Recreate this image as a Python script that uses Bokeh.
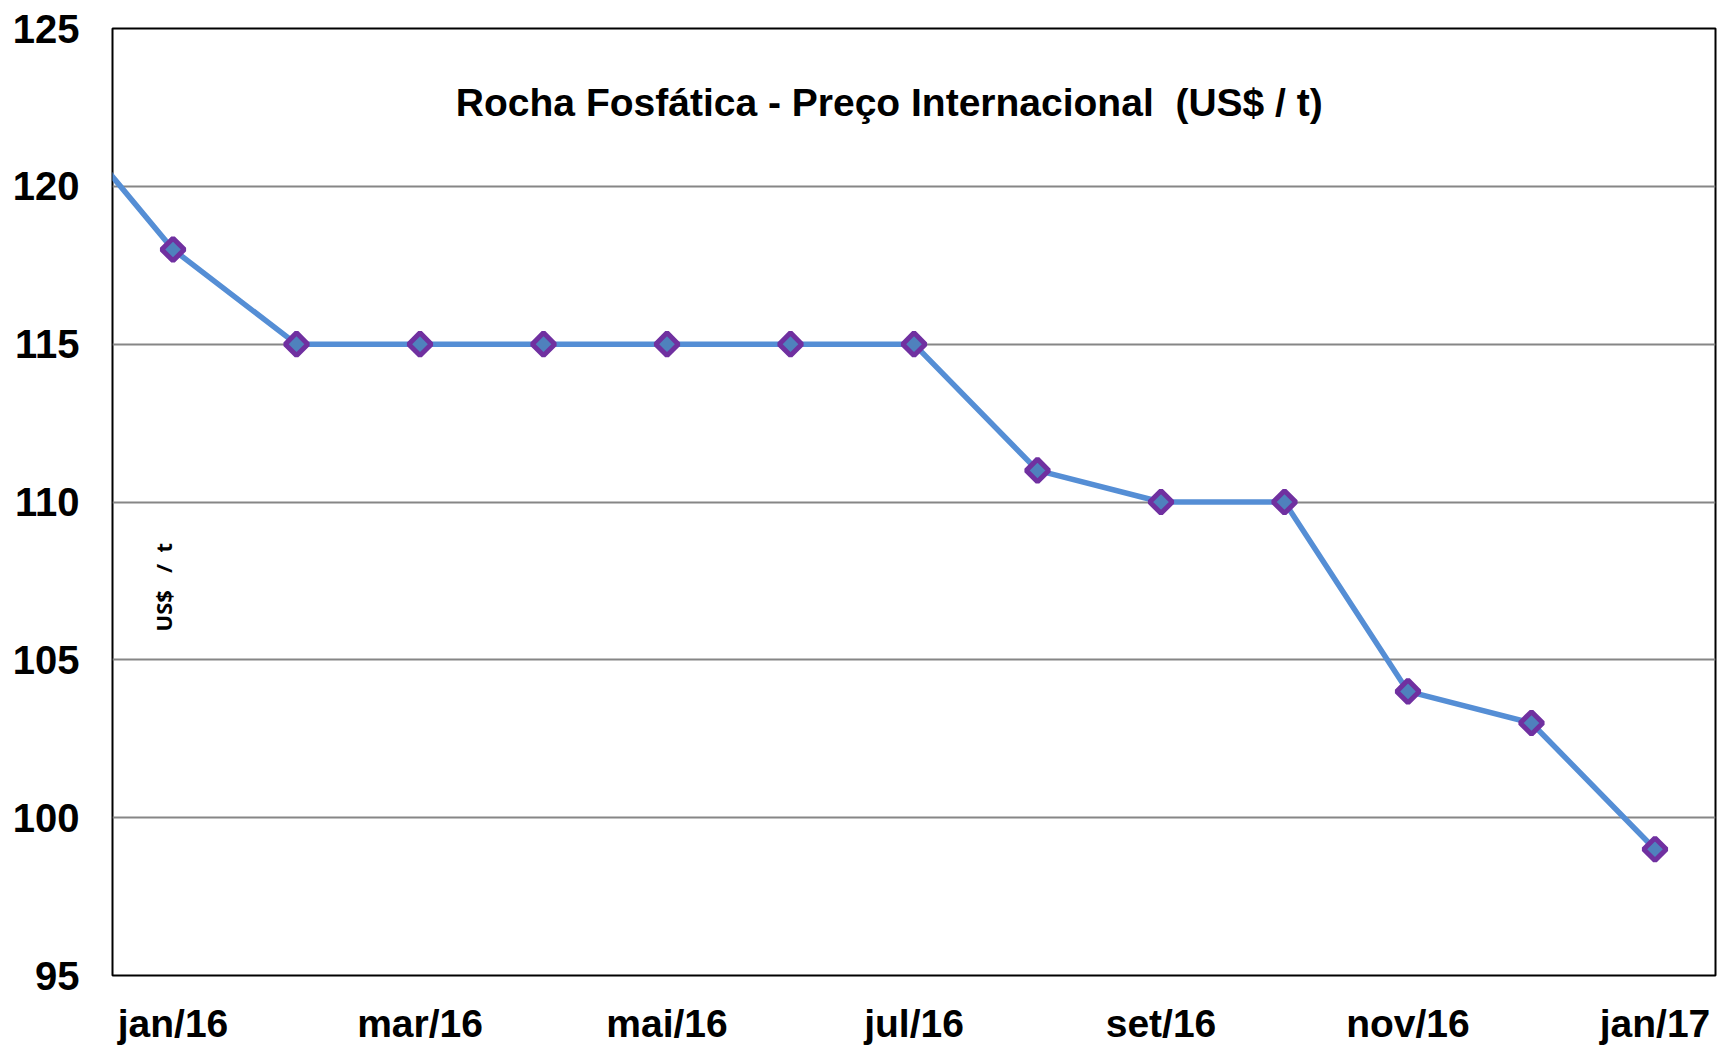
from bokeh.plotting import figure
from bokeh.models import FixedTicker, Label, Range1d
from bokeh.embed import file_html
from bokeh.resources import INLINE
import math

# ---- data ----
months = ["dez/15", "jan/16", "fev/16", "mar/16", "abr/16", "mai/16", "jun/16",
          "jul/16", "ago/16", "set/16", "out/16", "nov/16", "dez/16", "jan/17"]
prices = [122.7, 118, 115, 115, 115, 115, 115, 115, 111, 110, 110, 104, 103, 99]
tick_labels = ["jan/16", "mar/16", "mai/16", "jul/16", "set/16", "nov/16", "jan/17"]
y_ticks = [95, 100, 105, 110, 115, 120, 125]
title_text = "Rocha Fosfática - Preço Internacional\u00a0\u00a0(US$ / t)"
y_label_text = "US$\u00a0\u00a0\u00a0/\u00a0\u00a0t"

x = [i - 1 for i in range(len(months))]  # jan/16 -> 0

p = figure(width=1717, height=1047, output_backend="svg", toolbar_location=None,
           x_range=Range1d(-0.49, 12.49), y_range=Range1d(95, 125),
           min_border_left=112, min_border_right=2, min_border_top=28, min_border_bottom=69)

p.background_fill_color = "white"
p.border_fill_color = "white"
p.outline_line_color = "black"
p.outline_line_width = 2

# axes
p.xaxis.ticker = FixedTicker(ticks=[x[months.index(l)] for l in tick_labels])
p.xaxis.major_label_overrides = {x[months.index(l)]: l for l in tick_labels}
p.yaxis.ticker = FixedTicker(ticks=y_ticks)
for ax in (p.xaxis, p.yaxis):
    ax.axis_line_color = None
    ax.major_tick_line_color = None
    ax.minor_tick_line_color = None
    ax.major_tick_out = 0
    ax.major_tick_in = 0
    ax.major_label_text_font = "Liberation Sans"
    ax.major_label_text_font_style = "bold"
    ax.major_label_text_color = "black"
p.xaxis.major_label_text_font_size = "39px"
p.yaxis.major_label_text_font_size = "40px"
p.xaxis.major_label_standoff = 26
p.yaxis.major_label_standoff = 33

p.xgrid.grid_line_color = None
p.ygrid.grid_line_color = "#868686"
p.ygrid.grid_line_width = 2

# series
p.line(x, prices, line_color="#558ED5", line_width=5.5)
p.scatter(x, prices, marker="square", angle=math.pi / 4, size=16,
          fill_color="#4F81BD", line_color="#7030A0", line_width=5)

# title inside plot
p.add_layout(Label(x=5.8, y=122.65, text=title_text, text_align="center",
                   text_baseline="middle", text_font="Liberation Sans",
                   text_font_style="bold", text_font_size="39px", text_color="black"))

# y axis caption inside plot
p.add_layout(Label(x=-0.08, y=107.3, text=y_label_text, angle=math.pi / 2,
                   text_align="center", text_baseline="middle", text_font="Open Sans",
                   text_font_style="bold", text_font_size="22px", text_color="black"))

open("out.html", "w").write(file_html(p, INLINE))
